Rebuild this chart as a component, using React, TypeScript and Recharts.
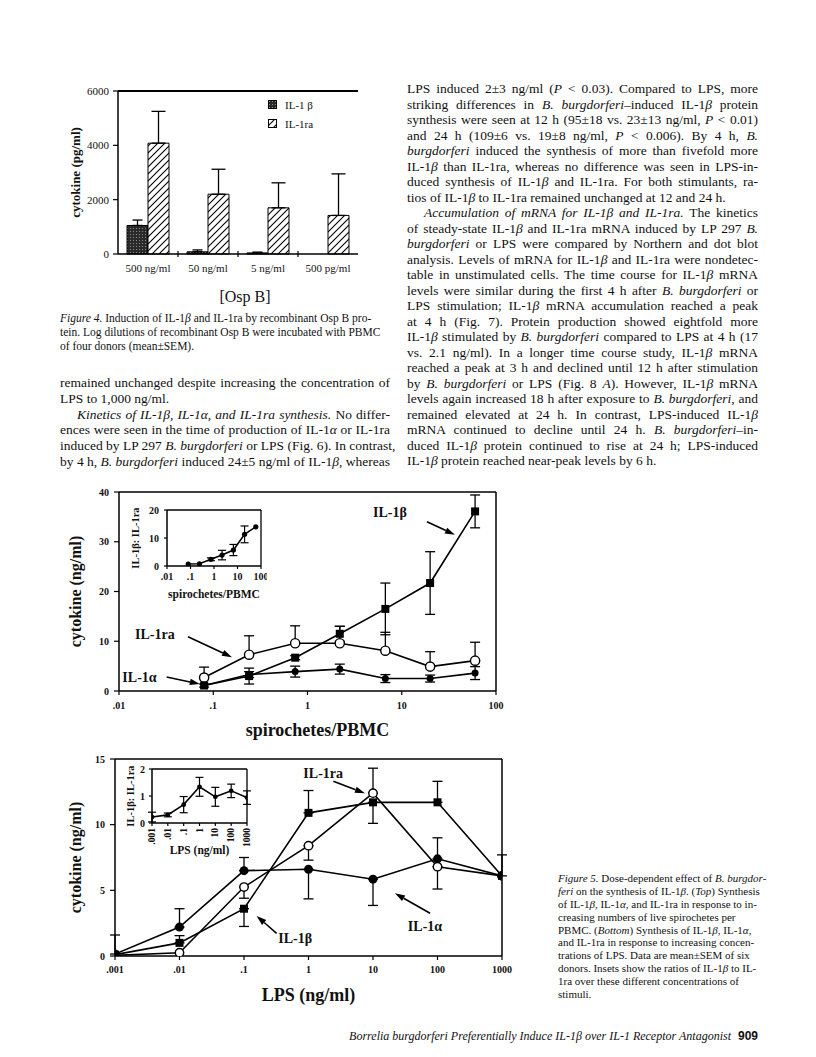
import React from 'react';
import {
  BarChart, Bar, LineChart, Line, XAxis, YAxis, ErrorBar, Legend,
  ReferenceLine, ReferenceDot, Label,
} from 'recharts';

const SERIF = '"Liberation Serif", "Times New Roman", Times, serif';
const SANS = '"Liberation Sans", Arial, sans-serif';
const INK = '#111';

// ---------------- Figure 4 data ----------------
const ospCategories = ['500 ng/ml', '50 ng/ml', '5 ng/ml', '500 pg/ml'];
const ospIL1b = [1050, 80, 40, 0];
const ospIL1bSem = [200, 70, 30, 0];
const ospIL1ra = [4080, 2200, 1700, 1420];
const ospIL1raSem = [1170, 920, 920, 1530];
const ospTicks = [0, 2000, 4000, 6000];

// ---------------- Figure 5 top data ----------------
const spiroX = [0.08, 0.24, 0.74, 2.2, 6.7, 20, 60];
const spiroTicks = [0.01, 0.1, 1, 10, 100];
const spiroIL1b = [1.1, 3.0, 6.7, 11.5, 16.5, 21.7, 36.1];
const spiroIL1bSem = [0, 1.6, 0.4, 1.5, 5.2, 6.3, 3.3];
const spiroIL1ra = [2.7, 7.3, 9.6, 9.6, 8.1, 4.9, 6.1];
const spiroIL1raSem = [2.1, 3.8, 3.5, 3.4, 3.7, 3.0, 3.7];
const spiroIL1a = [1.1, 3.3, 3.9, 4.4, 2.5, 2.5, 3.6];
const spiroIL1aSem = [0.3, 0.6, 1.1, 1.0, 0.8, 0.7, 1.3];
const spiroRatio = [0.7, 0.8, 2.4, 3.9, 5.7, 11.3, 14];
const spiroRatioSem = [0, 0, 0.5, 1.7, 2.0, 3.0, 0];
const spiroTicksY = [0, 10, 20, 30, 40];
const spiroRatioTicksY = [0, 10, 20];

// ---------------- Figure 5 bottom data ----------------
const lpsX = [0.001, 0.01, 0.1, 1, 10, 100, 1000];
const lpsTicks = [0.001, 0.01, 0.1, 1, 10, 100, 1000];
const lpsIL1b = [0.1, 1.0, 3.6, 10.9, 11.7, 11.7, 6.1];
const lpsIL1bSemDown = [0, 0, 1.35, 0, 1.6, 0, 0];
const lpsIL1bSemUp = [0, 0.55, 0, 1.7, 0, 1.6, 1.6];
const lpsIL1ra = [0.05, 0.25, 5.25, 8.4, 12.4, 6.8, 6.1];
const lpsIL1raSemDown = [0, 0, 0.85, 1.1, 0, 1.7, 0];
const lpsIL1raSemUp = [0, 0, 0, 0, 1.9, 0, 0];
const lpsIL1a = [0.15, 2.2, 6.5, 6.6, 5.85, 7.4, 6.1];
const lpsIL1aSemDown = [0, 0, 0, 2.25, 2.0, 0, 0];
const lpsIL1aSemUp = [1.45, 1.4, 1.0, 0, 0, 1.6, 0];
const lpsRatio = [0.22, 0.3, 0.68, 1.34, 0.97, 1.19, 0.94];
const lpsRatioSem = [0.18, 0.07, 0.3, 0.35, 0.35, 0.25, 0.25];
const lpsTicksY = [0, 5, 10, 15];
const lpsRatioTicksY = [0, 1, 2];

// ---------------- page text ----------------
const leftCol = [
  'remained unchanged despite increasing the concentration of',
  'LPS to 1,000 ng/ml.$',
  '>_Kinetics of IL-1β, IL-1α, and IL-1ra synthesis._ No differ-',
  'ences were seen in the time of production of IL-1_α_ or IL-1ra',
  'induced by LP 297 _B. burgdorferi_ or LPS (Fig. 6). In contrast,',
  'by 4 h, _B. burgdorferi_ induced 24±5 ng/ml of IL-1_β_, whereas',
];
const rightCol = [
  'LPS induced 2±3 ng/ml (_P_ < 0.03). Compared to LPS, more',
  'striking differences in _B. burgdorferi_–induced IL-1_β_ protein',
  'synthesis were seen at 12 h (95±18 vs. 23±13 ng/ml, _P_ < 0.01)',
  'and 24 h (109±6 vs. 19±8 ng/ml, _P_ < 0.006). By 4 h, _B._',
  '_burgdorferi_ induced the synthesis of more than fivefold more',
  'IL-1_β_ than IL-1ra, whereas no difference was seen in LPS-in-',
  'duced synthesis of IL-1_β_ and IL-1ra. For both stimulants, ra-',
  'tios of IL-1_β_ to IL-1ra remained unchanged at 12 and 24 h.$',
  '>_Accumulation of mRNA for IL-1β and IL-1ra._ The kinetics',
  'of steady-state IL-1_β_ and IL-1ra mRNA induced by LP 297 _B._',
  '_burgdorferi_ or LPS were compared by Northern and dot blot',
  'analysis. Levels of mRNA for IL-1_β_ and IL-1ra were nondetec-',
  'table in unstimulated cells. The time course for IL-1_β_ mRNA',
  'levels were similar during the first 4 h after _B. burgdorferi_ or',
  'LPS stimulation; IL-1_β_ mRNA accumulation reached a peak',
  'at 4 h (Fig. 7). Protein production showed eightfold more',
  'IL-1_β_ stimulated by _B. burgdorferi_ compared to LPS at 4 h (17',
  'vs. 2.1 ng/ml). In a longer time course study, IL-1_β_ mRNA',
  'reached a peak at 3 h and declined until 12 h after stimulation',
  'by _B. burgdorferi_ or LPS (Fig. 8 _A_). However, IL-1_β_ mRNA',
  'levels again increased 18 h after exposure to _B. burgdorferi_, and',
  'remained elevated at 24 h. In contrast, LPS-induced IL-1_β_',
  'mRNA continued to decline until 24 h. _B. burgdorferi_–in-',
  'duced IL-1_β_ protein continued to rise at 24 h; LPS-induced',
  'IL-1_β_ protein reached near-peak levels by 6 h.$',
];
const fig4Caption = [
  '_Figure 4._ Induction of IL-1_β_ and IL-1ra by recombinant Osp B pro-',
  'tein. Log dilutions of recombinant Osp B were incubated with PBMC',
  'of four donors (mean±SEM).$',
];
const fig5Caption = [
  '_Figure 5._ Dose-dependent effect of _B. burgdor-_$',
  '_feri_ on the synthesis of IL-1_β_. (_Top_) Synthesis$',
  'of IL-1_β_, IL-1_α_, and IL-1ra in response to in-$',
  'creasing numbers of live spirochetes per$',
  'PBMC. (_Bottom_) Synthesis of IL-1_β_, IL-1_α_,$',
  'and IL-1ra in response to increasing concen-$',
  'trations of LPS. Data are mean±SEM of six$',
  'donors. Insets show the ratios of IL-1_β_ to IL-$',
  '1ra over these different concentrations of$',
  'stimuli.$',
];
const footerText = 'Borrelia burgdorferi Preferentially Induce IL-1β over IL-1 Receptor Antagonist';
const pageNumber = '909';

// ---------------- derived tables ----------------
const nz = (v: number) => (v ? v : undefined);
const ospData = ospCategories.map((cat, i) => ({
  cat,
  il1b: ospIL1b[i],
  il1bErr: ospIL1bSem[i] ? [0, ospIL1bSem[i]] : undefined,
  il1ra: ospIL1ra[i],
  il1raErr: ospIL1raSem[i] ? [0, ospIL1raSem[i]] : undefined,
}));
const spiroData = spiroX.map((x, i) => ({
  x,
  b: spiroIL1b[i], bErr: nz(spiroIL1bSem[i]),
  ra: spiroIL1ra[i], raErr: spiroIL1raSem[i] ? [0, spiroIL1raSem[i]] : undefined,
  a: spiroIL1a[i], aErr: nz(spiroIL1aSem[i]),
  ratio: spiroRatio[i], ratioErr: nz(spiroRatioSem[i]),
}));
const pair = (d: number, u: number) => (d || u ? [d, u] : undefined);
const lpsData = lpsX.map((x, i) => ({
  x,
  b: lpsIL1b[i], bErr: pair(lpsIL1bSemDown[i], lpsIL1bSemUp[i]),
  ra: lpsIL1ra[i], raErr: pair(lpsIL1raSemDown[i], lpsIL1raSemUp[i]),
  a: lpsIL1a[i], aErr: pair(lpsIL1aSemDown[i], lpsIL1aSemUp[i]),
  ratio: lpsRatio[i], ratioErr: nz(lpsRatioSem[i]),
}));

// ---------------- geometry ----------------
const F4 = { left: 60, top: 80, yAxisW: 58, plotW: 240, mTop: 11, plotH: 163, xAxisH: 54, mRight: 12 };
const TOP = { left: 60, top: 480, yAxisW: 59, plotW: 377, mTop: 12, plotH: 199, xAxisH: 56, mRight: 24 };
const INS1 = { left: 120, top: 500, yAxisW: 47, plotW: 94, mTop: 10, plotH: 56, xAxisH: 38, mRight: 6 };
const BOT = { left: 60, top: 745, yAxisW: 55, plotW: 387, mTop: 14, plotH: 197, xAxisH: 56, mRight: 18 };
const INS2 = { left: 110, top: 760, yAxisW: 42, plotW: 95, mTop: 9, plotH: 54, xAxisH: 37, mRight: 6 };
const dims = (g: any) => ({ width: g.yAxisW + g.plotW + g.mRight, height: g.mTop + g.plotH + g.xAxisH });

// ---------------- helpers ----------------
const fmtLog = (v: number) => (v < 1 ? String(v).replace(/^0/, '') : String(v));
const axisLine = { stroke: '#000', strokeWidth: 1.5 };
const tickLine = { stroke: '#000', strokeWidth: 1.2 };
const boldTick = (size: number) => ({ fontSize: size, fontWeight: 700, fontFamily: SERIF, fill: INK });

function Rich({ text }: { text: string }) {
  const parts = text.split('_');
  return (
    <>
      {parts.map((p, i) => (i % 2 ? <i key={i}>{p}</i> : <React.Fragment key={i}>{p}</React.Fragment>))}
    </>
  );
}

function TextBlock(props: {
  left: number; top: number; width: number; size: number; lh: number; lines: string[]; indent?: number;
}) {
  const { left, top, width, size, lh, lines, indent = 17 } = props;
  return (
    <div style={{ position: 'absolute', left, top, width, fontFamily: SERIF, fontSize: size, lineHeight: `${lh}px`, color: INK }}>
      {lines.map((raw, i) => {
        let s = raw;
        let ind = 0;
        let just = true;
        if (s.startsWith('>')) { ind = indent; s = s.slice(1); }
        if (s.endsWith('$')) { just = false; s = s.slice(0, -1); }
        return (
          <div key={i} style={{
            height: lh, whiteSpace: 'nowrap', paddingLeft: ind,
            textAlign: just ? 'justify' : 'left', textAlignLast: just ? 'justify' : 'left',
          } as React.CSSProperties}>
            <Rich text={s} />
          </div>
        );
      })}
    </div>
  );
}

const xTitle = (text: string, dy: number, size: number, dx = 0, weight = 700) => (props: any) => {
  const vb = props.viewBox || {};
  return (
    <text x={vb.x + vb.width / 2 + dx} y={vb.y + dy} textAnchor="middle" dominantBaseline="central"
      fontFamily={SERIF} fontWeight={weight} fontSize={size} fill={INK}>{text}</text>
  );
};
const yTitle = (text: string, dx: number, size: number) => (props: any) => {
  const vb = props.viewBox || {};
  const cx = vb.x + dx;
  const cy = vb.y + vb.height / 2;
  return (
    <text x={cx} y={cy} transform={`rotate(-90 ${cx} ${cy})`} textAnchor="middle" dominantBaseline="central"
      fontFamily={SERIF} fontWeight={700} fontSize={size} fill={INK}>{text}</text>
  );
};

const squareDot = (size: number) => (p: any) => (
  <rect key={`s${p.index}`} x={p.cx - size / 2} y={p.cy - size / 2} width={size} height={size} fill="#000" />
);
const openDot = (r: number) => (p: any) => (
  <circle key={`o${p.index}`} cx={p.cx} cy={p.cy} r={r} fill="#fff" stroke="#000" strokeWidth={1.4} />
);
const fillDot = (r: number) => (p: any) => (
  <circle key={`f${p.index}`} cx={p.cx} cy={p.cy} r={r} fill="#000" />
);

const arrowShape = (p: any) => {
  const { x1, y1, x2, y2 } = p;
  const ang = Math.atan2(y2 - y1, x2 - x1);
  const L = 10;
  const Wd = 3.2;
  const bx = x2 - L * Math.cos(ang);
  const by = y2 - L * Math.sin(ang);
  const p1 = `${bx + Wd * Math.sin(ang)},${by - Wd * Math.cos(ang)}`;
  const p2 = `${bx - Wd * Math.sin(ang)},${by + Wd * Math.cos(ang)}`;
  return (
    <g>
      <line x1={x1} y1={y1} x2={bx} y2={by} stroke="#000" strokeWidth={1.6} />
      <polygon points={`${x2},${y2} ${p1} ${p2}`} fill="#000" />
    </g>
  );
};
const textShape = (text: string, size: number) => (p: any) => (
  <text x={p.cx} y={p.cy} textAnchor="middle" dominantBaseline="central" fontFamily={SERIF}
    fontWeight={700} fontSize={size} fill={INK}>{text}</text>
);

// ---------------- Figure 4 ----------------
function OspTick(props: any) {
  const { x, payload, index } = props;
  const axisY = F4.mTop + F4.plotH;
  const band = F4.plotW / ospCategories.length;
  return (
    <g>
      <text x={x} y={axisY + 14} textAnchor="middle" dominantBaseline="central" fontFamily={SERIF} fontSize={11} fill={INK}>
        {payload.value}
      </text>
      {index < ospCategories.length - 1 && (
        <line x1={x + band / 2} x2={x + band / 2} y1={axisY - 3} y2={axisY + 3} stroke="#000" strokeWidth={1.2} />
      )}
    </g>
  );
}

function OspLegend(props: any) {
  const items = (props.payload || []).map((e: any) => ({ name: e.value, fill: (e.payload && e.payload.fill) || e.color }));
  return (
    <div style={{ fontFamily: SERIF, fontSize: 11, color: INK }}>
      {items.map((it: any, i: number) => (
        <div key={i} style={{ display: 'flex', alignItems: 'center', height: 19 }}>
          <svg width={9} height={9} style={{ marginRight: 8 }}>
            <rect x={0.5} y={0.5} width={8} height={8} fill={it.fill} stroke="#000" strokeWidth={1} />
          </svg>
          <span>{it.name}</span>
        </div>
      ))}
    </div>
  );
}

function Figure4() {
  const d = dims(F4);
  return (
    <BarChart width={d.width} height={d.height} data={ospData}
      margin={{ top: F4.mTop, right: F4.mRight, bottom: 0, left: 0 }} barCategoryGap="15%" barGap={0}>
      <defs>
        <pattern id="stipple" width="3" height="3" patternUnits="userSpaceOnUse">
          <rect width="3" height="3" fill="#2a2a2a" />
          <rect x="1" y="1" width="1" height="1" fill="#8a8a8a" />
        </pattern>
        <pattern id="hatch" width="7" height="7" patternUnits="userSpaceOnUse">
          <rect width="7" height="7" fill="#fff" />
          <path d="M-1,1 L1,-1 M0,7 L7,0 M6,8 L8,6" stroke="#000" strokeWidth="1.1" />
        </pattern>
      </defs>
      <XAxis dataKey="cat" height={F4.xAxisH} tickLine={false} tick={<OspTick />} interval={0} axisLine={axisLine}>
        <Label content={xTitle('[Osp B]', 42, 16, 7, 400)} />
      </XAxis>
      <YAxis domain={[0, 6000]} ticks={ospTicks} width={F4.yAxisW} tickSize={5} tickMargin={4}
        tick={{ fontSize: 11, fontFamily: SERIF, fill: INK }} axisLine={axisLine} tickLine={tickLine}>
        <Label content={yTitle('cytokine (pg/ml)', 15, 13)} />
      </YAxis>
      <YAxis yAxisId="border" orientation="right" width={0} tick={false} tickLine={false} axisLine={axisLine} />
      <ReferenceLine y={6000} stroke="#000" strokeWidth={2} />
      <Legend layout="vertical" align="center" verticalAlign="middle" content={<OspLegend />}
        wrapperStyle={{ left: 208, top: 15, width: 90 }} />
      <Bar dataKey="il1b" name="IL-1 β" fill="url(#stipple)" stroke="#000" strokeWidth={1} isAnimationActive={false}>
        <ErrorBar dataKey="il1bErr" direction="y" width={5} stroke="#000" strokeWidth={1.3} isAnimationActive={false} />
      </Bar>
      <Bar dataKey="il1ra" name="IL-1ra" fill="url(#hatch)" stroke="#000" strokeWidth={1} isAnimationActive={false}>
        <ErrorBar dataKey="il1raErr" direction="y" width={7} stroke="#000" strokeWidth={1.3} isAnimationActive={false} />
      </Bar>
    </BarChart>
  );
}

// ---------------- Figure 5 top ----------------
function SpiroMain() {
  const d = dims(TOP);
  return (
    <LineChart width={d.width} height={d.height} data={spiroData}
      margin={{ top: TOP.mTop, right: TOP.mRight, bottom: 0, left: 0 }}>
      <XAxis dataKey="x" type="number" scale="log" domain={[0.01, 100]} ticks={spiroTicks} tickFormatter={fmtLog}
        allowDataOverflow interval={0} height={TOP.xAxisH} tickSize={4} tickMargin={7} tick={boldTick(10)}
        axisLine={axisLine} tickLine={tickLine}>
        <Label content={xTitle('spirochetes/PBMC', 39, 18, 10)} />
      </XAxis>
      <YAxis type="number" domain={[0, 40]} ticks={spiroTicksY} width={TOP.yAxisW} tickSize={5} tickMargin={5}
        tick={boldTick(10)} axisLine={axisLine} tickLine={tickLine} allowDataOverflow interval={0}>
        <Label content={yTitle('cytokine (ng/ml)', 15, 16)} />
      </YAxis>
      <ReferenceLine y={40} stroke="#000" strokeWidth={1.5} />
      <ReferenceLine x={100} stroke="#000" strokeWidth={1.5} />

      <Line dataKey="a" name="IL-1α" stroke="#000" strokeWidth={1.6} dot={false} isAnimationActive={false}>
        <ErrorBar dataKey="aErr" direction="y" width={5} stroke="#000" strokeWidth={1.3} isAnimationActive={false} />
      </Line>
      <Line dataKey="ra" name="IL-1ra" stroke="#000" strokeWidth={1.6} dot={false} isAnimationActive={false}>
        <ErrorBar dataKey="raErr" direction="y" width={5} stroke="#000" strokeWidth={1.3} isAnimationActive={false} />
      </Line>
      <Line dataKey="b" name="IL-1β" stroke="#000" strokeWidth={1.6} dot={false} isAnimationActive={false}>
        <ErrorBar dataKey="bErr" direction="y" width={5} stroke="#000" strokeWidth={1.3} isAnimationActive={false} />
      </Line>
      <Line dataKey="a" stroke="none" dot={fillDot(3.5)} legendType="none" isAnimationActive={false} />
      <Line dataKey="ra" stroke="none" dot={openDot(4.6)} legendType="none" isAnimationActive={false} />
      <Line dataKey="b" stroke="none" dot={squareDot(8)} legendType="none" isAnimationActive={false} />

      <ReferenceLine segment={[{ x: 18.5, y: 34.0 }, { x: 36.7, y: 31.4 }]} shape={arrowShape} ifOverflow="visible" />
      <ReferenceDot x={7.5} y={35.8} r={0} shape={textShape('IL-1β', 14)} ifOverflow="visible" />
      <ReferenceLine segment={[{ x: 0.054, y: 10.9 }, { x: 0.158, y: 6.8 }]} shape={arrowShape} ifOverflow="visible" />
      <ReferenceDot x={0.024} y={11.3} r={0} shape={textShape('IL-1ra', 14)} ifOverflow="visible" />
      <ReferenceLine segment={[{ x: 0.032, y: 2.8 }, { x: 0.072, y: 1.4 }]} shape={arrowShape} ifOverflow="visible" />
      <ReferenceDot x={0.0165} y={2.8} r={0} shape={textShape('IL-1α', 14)} ifOverflow="visible" />
    </LineChart>
  );
}

function SpiroInset() {
  const d = dims(INS1);
  return (
    <LineChart width={d.width} height={d.height} data={spiroData}
      margin={{ top: INS1.mTop, right: INS1.mRight, bottom: 0, left: 0 }}>
      <XAxis dataKey="x" type="number" scale="log" domain={[0.01, 100]} ticks={spiroTicks} tickFormatter={fmtLog}
        allowDataOverflow interval={0} height={INS1.xAxisH} tickSize={3} tickMargin={4} tick={boldTick(10)}
        axisLine={axisLine} tickLine={tickLine}>
        <Label content={xTitle('spirochetes/PBMC', 28, 11.5)} />
      </XAxis>
      <YAxis type="number" domain={[0, 20]} ticks={spiroRatioTicksY} width={INS1.yAxisW} tickSize={3} tickMargin={5}
        tick={boldTick(10)} axisLine={axisLine} tickLine={tickLine} allowDataOverflow interval={0}>
        <Label content={yTitle('IL-1β: IL-1ra', 15, 10.5)} />
      </YAxis>
      <ReferenceLine y={20} stroke="#000" strokeWidth={1.3} />
      <ReferenceLine x={100} stroke="#000" strokeWidth={1.3} />
      <Line dataKey="ratio" name="IL-1β: IL-1ra" stroke="#000" strokeWidth={1.6} dot={fillDot(2.6)} isAnimationActive={false}>
        <ErrorBar dataKey="ratioErr" direction="y" width={4} stroke="#000" strokeWidth={1.2} isAnimationActive={false} />
      </Line>
    </LineChart>
  );
}

// ---------------- Figure 5 bottom ----------------
function LpsMain() {
  const d = dims(BOT);
  return (
    <LineChart width={d.width} height={d.height} data={lpsData}
      margin={{ top: BOT.mTop, right: BOT.mRight, bottom: 0, left: 0 }}>
      <XAxis dataKey="x" type="number" scale="log" domain={[0.001, 1000]} ticks={lpsTicks} tickFormatter={fmtLog}
        allowDataOverflow interval={0} height={BOT.xAxisH} tickSize={4} tickMargin={6} tick={boldTick(10)}
        axisLine={axisLine} tickLine={tickLine}>
        <Label content={xTitle('LPS (ng/ml)', 39, 18)} />
      </XAxis>
      <YAxis type="number" domain={[0, 15]} ticks={lpsTicksY} width={BOT.yAxisW} tickSize={5} tickMargin={5}
        tick={boldTick(10)} axisLine={axisLine} tickLine={tickLine} allowDataOverflow interval={0}>
        <Label content={yTitle('cytokine (ng/ml)', 15, 16)} />
      </YAxis>
      <ReferenceLine y={15} stroke="#000" strokeWidth={1.5} />
      <ReferenceLine x={1000} stroke="#000" strokeWidth={1.5} />

      <Line dataKey="a" name="IL-1α" stroke="#000" strokeWidth={1.6} dot={false} isAnimationActive={false}>
        <ErrorBar dataKey="aErr" direction="y" width={5} stroke="#000" strokeWidth={1.3} isAnimationActive={false} />
      </Line>
      <Line dataKey="ra" name="IL-1ra" stroke="#000" strokeWidth={1.6} dot={false} isAnimationActive={false}>
        <ErrorBar dataKey="raErr" direction="y" width={5} stroke="#000" strokeWidth={1.3} isAnimationActive={false} />
      </Line>
      <Line dataKey="b" name="IL-1β" stroke="#000" strokeWidth={1.6} dot={false} isAnimationActive={false}>
        <ErrorBar dataKey="bErr" direction="y" width={5} stroke="#000" strokeWidth={1.3} isAnimationActive={false} />
      </Line>
      <Line dataKey="a" stroke="none" dot={fillDot(4.5)} legendType="none" isAnimationActive={false} />
      <Line dataKey="ra" stroke="none" dot={openDot(4.2)} legendType="none" isAnimationActive={false} />
      <Line dataKey="b" stroke="none" dot={squareDot(8)} legendType="none" isAnimationActive={false} />

      <ReferenceLine segment={[{ x: 2.43, y: 13.3 }, { x: 7.5, y: 12.4 }]} shape={arrowShape} ifOverflow="visible" />
      <ReferenceDot x={1.69} y={13.9} r={0} shape={textShape('IL-1ra', 14)} ifOverflow="visible" />
      <ReferenceLine segment={[{ x: 0.32, y: 1.73 }, { x: 0.157, y: 3.05 }]} shape={arrowShape} ifOverflow="visible" />
      <ReferenceDot x={0.62} y={1.35} r={0} shape={textShape('IL-1β', 14)} ifOverflow="visible" />
      <ReferenceLine segment={[{ x: 76.6, y: 3.25 }, { x: 21.9, y: 4.78 }]} shape={arrowShape} ifOverflow="visible" />
      <ReferenceDot x={64} y={2.23} r={0} shape={textShape('IL-1α', 14)} ifOverflow="visible" />
    </LineChart>
  );
}

function RotTick(props: any) {
  const { x, y, payload } = props;
  return (
    <text x={x} y={y} transform={`rotate(-90 ${x} ${y})`} textAnchor="end" dominantBaseline="central"
      fontFamily={SERIF} fontWeight={700} fontSize={9.5} fill={INK}>
      {fmtLog(payload.value)}
    </text>
  );
}

function LpsInset() {
  const d = dims(INS2);
  return (
    <LineChart width={d.width} height={d.height} data={lpsData}
      margin={{ top: INS2.mTop, right: INS2.mRight, bottom: 0, left: 0 }}>
      <XAxis dataKey="x" type="number" scale="log" domain={[0.001, 1000]} ticks={lpsTicks}
        allowDataOverflow interval={0} height={INS2.xAxisH} tickSize={3} tickMargin={2} tick={<RotTick />}
        axisLine={axisLine} tickLine={tickLine}>
        <Label content={xTitle('LPS (ng/ml)', 27, 11.5)} />
      </XAxis>
      <YAxis type="number" domain={[0, 2]} ticks={lpsRatioTicksY} width={INS2.yAxisW} tickSize={3} tickMargin={4}
        tick={boldTick(10)} axisLine={axisLine} tickLine={tickLine} allowDataOverflow interval={0}>
        <Label content={yTitle('IL-1β: IL-1ra', 20, 10.5)} />
      </YAxis>
      <ReferenceLine y={2} stroke="#000" strokeWidth={1.3} />
      <ReferenceLine x={1000} stroke="#000" strokeWidth={1.3} />
      <Line dataKey="ratio" name="IL-1β: IL-1ra" stroke="#000" strokeWidth={1.6} dot={fillDot(2.4)} isAnimationActive={false}>
        <ErrorBar dataKey="ratioErr" direction="y" width={4} stroke="#000" strokeWidth={1.2} isAnimationActive={false} />
      </Line>
    </LineChart>
  );
}

function Placed({ g, children }: { g: any; children: React.ReactNode }) {
  return <div style={{ position: 'absolute', left: g.left, top: g.top }}>{children}</div>;
}

export default function App() {
  return (
    <div style={{ position: 'absolute', left: 0, top: 0, width: 816, height: 1057, background: '#fff', overflow: 'hidden' }}>
      <Placed g={F4}><Figure4 /></Placed>
      <TextBlock left={60} top={311} width={297} size={11.5} lh={14} lines={fig4Caption} />
      <TextBlock left={60} top={375} width={330} size={13.5} lh={15.8} lines={leftCol} />
      <TextBlock left={407} top={81} width={351} size={13.5} lh={15.5} lines={rightCol} />

      <Placed g={TOP}><SpiroMain /></Placed>
      <Placed g={INS1}><SpiroInset /></Placed>
      <Placed g={BOT}><LpsMain /></Placed>
      <Placed g={INS2}><LpsInset /></Placed>

      <TextBlock left={558} top={872} width={200} size={11} lh={12.9} lines={fig5Caption} />

      <div style={{ position: 'absolute', left: 300, top: 1029, width: 431, textAlign: 'right', fontFamily: SERIF,
        fontStyle: 'italic', fontSize: 12, color: INK, whiteSpace: 'nowrap' }}>{footerText}</div>
      <div style={{ position: 'absolute', left: 730, top: 1029, width: 28, textAlign: 'right', fontFamily: SANS,
        fontWeight: 700, fontSize: 12, color: INK }}>{pageNumber}</div>
    </div>
  );
}
